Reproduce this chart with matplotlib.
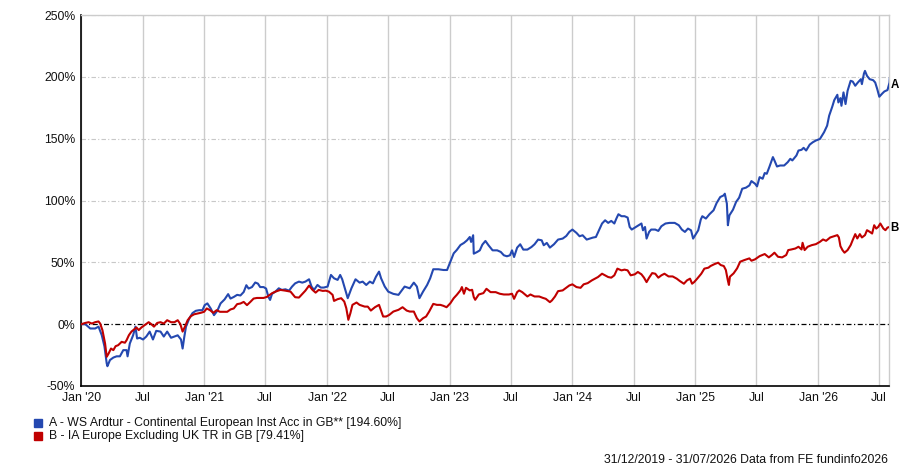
import matplotlib
matplotlib.use("Agg")
import matplotlib.pyplot as plt
from matplotlib.patches import Rectangle
import numpy as np
import pandas as pd

plt.rcParams['font.family'] = ['Liberation Sans', 'DejaVu Sans']

# months since 1 Jan 2020 and cumulative % return
months_a = [0,0.39,0.87,1.35,1.68,2.0,2.26,2.48,2.55,2.8,3.13,3.45,3.77,4.1,4.42,4.52,4.74,5.06,5.29,5.45,5.71,6.03,6.35,6.68,7.0,7.32,7.74,8.06,8.39,8.77,9.1,9.42,9.74,9.9,10.06,10.23,10.55,10.87,11.19,11.52,11.84,12.06,12.32,12.65,12.97,13.29,13.61,14.0,14.35,14.58,14.9,15.23,15.55,15.87,16.13,16.35,16.68,17.0,17.26,17.48,17.81,18.06,
            18.29,18.45,18.64,18.97,19.3,19.6,19.95,20.3,20.6,20.9,21.27,21.6,21.9,22.26,22.5,22.75,23.08,23.4,23.7,24.07,24.4,24.7,25.05,25.3,25.5,25.8,26.04,26.4,26.8,27.2,27.5,27.85,28.2,28.5,28.8,29.1,29.3,29.66,30.0,30.5,31.0,31.3,31.6,32.1,32.5,32.8,33.05,33.4,33.8,34.1,34.4,34.9,35.4,35.75,36.07,36.4,36.7,37.06,
            37.4,37.7,37.97,38.1,38.3,38.36,38.7,38.95,39.2,39.5,39.8,40.2,40.65,41.0,41.3,41.6,41.9,42.1,42.3,42.6,42.9,43.2,43.6,44.0,44.3,44.65,45.0,45.2,45.5,45.8,46.2,46.6,47.05,47.4,47.7,48.0,48.4,48.7,49.0,49.4,49.7,50.0,50.3,50.6,50.9,51.2,51.5,51.8,52.1,52.3,52.5,52.8,53.1,53.4,53.6,53.8,54.2,54.6,54.75,54.9,55.1,55.25,55.5,55.7,56.1,56.4,56.7,57.1,57.5,58.0,58.4,58.7,59.0,59.3,59.6,59.8,60.1,60.3,
            60.55,60.7,61.05,61.4,61.8,62.1,62.45,62.8,62.9,63.1,63.2,63.35,63.7,64.0,64.3,64.6,64.97,65.3,65.5,65.85,66.05,66.3,66.6,66.8,67.0,67.25,67.6,67.75,68.0,68.3,68.7,69.05,69.3,69.5,69.9,70.1,70.4,70.6,70.85,71.2,71.5,71.8,72.2,72.4,72.6,72.9,73.1,73.4,73.6,73.9,74.0,74.2,74.3,74.5,74.7,74.9,75.2,75.4,75.65,75.9,76.2,76.3,76.5,76.6,76.8,77.06,77.4,77.6,77.8,78.0,78.3,78.5,78.8,79.0,79.03]
values_a = [0,0,-3.5,-3.5,-2,-9,-18,-31.7,-34,-29,-27,-26,-26,-21,-21,-26,-15.6,-9,-2,-11.6,-11,-12.4,-10,-6,-12.4,-5.4,-6,-10,-6,-11,-10,-9,-12.4,-19.7,-10.5,-2,4.6,9,10.8,11.3,11.3,15.4,16.8,12.6,7.3,10.8,16.8,20,24.3,20.7,22,23.7,23.2,26,31.5,28.8,30,33.7,32.8,30,30,28.8,
            22,19.6,24.5,26.3,29,27.7,28.2,27.1,30.4,33,34.4,33.6,34.4,36.3,30.4,27.7,31.7,29.6,29.6,30.4,39.8,37.1,35.8,39.8,36.3,27.7,21,29,36.3,33.6,34.4,31.7,34.4,33,38.4,42.5,37.1,30.4,26.3,24.5,23.7,27.1,30.4,29,33.6,30.4,21,26.3,31.7,37.1,44.4,44.4,43.8,43.8,50.5,57.3,60,64,
            65.7,67.8,70.5,66.5,71.9,57,58.4,59.7,64.3,67.3,63.8,59.7,59.7,58.4,55.7,54.9,55.7,59.7,54.3,61.9,64.6,60.3,60.3,62.4,64.6,68.4,67.8,63.8,65.7,61.9,64.6,68.4,69.2,71.3,74.6,76.5,73.8,71.1,71.9,68.4,69.2,70,70.5,75.9,81.4,84,81.9,83.5,81.4,85.4,88.9,87.3,87.3,86.2,78.6,76.5,78.6,80.8,81.4,75.9,78.6,69.2,74.6,76.5,76.5,75.4,79.2,81.4,81.9,81.9,80,76.5,74.6,77.3,75.9,69.2,73.2,75.9,
            84.6,87.3,85.4,88.9,92.1,98,102.8,104.2,105.5,97.5,80,88,92.6,98.8,102.3,109.5,110.4,112.2,115.7,113.6,111.4,118.9,117.6,122.2,121.6,127,135.1,132.4,127.5,128.3,128.3,131,133.7,132.4,136.4,140.4,141,142.6,140.4,145.2,147.1,148.5,149.8,152.5,155.2,160.5,168.6,175.8,181.2,185.5,179.3,182.8,176.6,187.4,178,188.7,196.8,196.2,192.8,195.4,198.1,194.1,202.7,204.8,200.8,198.1,197.3,195.4,190.1,183.9,186.6,188.2,189.3,195.4,198.9]

months_b = [0,0.39,0.71,1.03,1.35,1.68,1.84,2.06,2.32,2.48,2.65,2.9,3.13,3.35,3.6,3.94,4.26,4.42,4.65,4.9,5.16,5.39,5.61,5.87,6.19,6.58,6.84,7.1,7.42,7.74,8.06,8.39,8.77,9.1,9.42,9.68,9.9,10.13,10.39,10.71,11.03,11.35,11.68,12.0,12.26,12.58,12.9,13.23,13.55,13.94,14.26,14.58,14.9,15.23,15.55,15.87,16.19,16.52,16.84,17.16,17.48,17.81,18.13,
            18.64,18.97,19.46,19.95,20.45,20.9,21.27,21.6,21.9,22.26,22.6,22.9,23.2,23.6,23.9,24.2,24.56,24.7,25.05,25.4,25.7,25.9,26.1,26.3,26.5,26.9,27.2,27.7,28.0,28.3,28.7,29.1,29.5,29.8,30.1,30.5,31.0,31.4,31.8,32.1,32.5,32.8,33.05,33.4,33.7,34.0,34.4,34.76,35.1,35.4,35.7,36.07,36.4,36.7,
            37.05,37.2,37.4,37.6,37.97,38.2,38.36,38.5,38.85,39.3,39.6,40.0,40.5,40.9,41.3,41.8,42.1,42.3,42.6,42.8,43.1,43.6,43.9,44.3,44.75,45.1,45.4,45.8,46.0,46.3,46.6,47.05,47.4,47.7,48.0,48.4,48.8,49.1,49.5,49.9,50.2,50.5,50.9,51.2,51.5,51.8,52.1,52.4,52.8,53.1,53.4,53.7,54.1,54.4,54.75,55.0,55.25,55.5,55.8,56.1,56.4,56.7,57.0,57.4,57.8,58.2,58.5,58.9,59.2,59.5,59.7,59.9,60.2,60.6,60.9,61.3,
            61.5,61.9,62.25,62.5,62.8,63.0,63.2,63.3,63.4,63.76,64.1,64.4,64.8,65.3,65.5,65.85,66.3,66.8,67.2,67.5,67.75,68.1,68.5,68.9,69.1,69.4,69.8,70.1,70.4,70.5,70.7,71.0,71.4,71.8,72.2,72.5,72.8,73.2,73.6,73.9,74.05,74.2,74.4,74.6,74.9,75.2,75.4,75.65,75.85,76.1,76.3,76.6,76.8,77.06,77.3,77.5,77.7,77.9,78.1,78.4,78.6,78.8,79.03]
values_b = [0,1,1.6,0.5,1.6,2.2,0.5,-4.8,-15.6,-26.4,-24,-19.7,-21,-17.8,-17,-14.3,-15,-13,-8.9,-6,-4.3,-2.7,-4.8,-2.7,-0.8,1.6,0,-2,1,1.6,0.5,3.2,1.6,1.6,3.2,0,-6,-2,3.2,6.5,8,8.6,9.2,10,12.7,11.3,9.2,11.3,10,10,10,11.9,12.7,16.2,16.7,18,15.4,18,20.7,21.2,21.2,21.2,22,
            25,26.3,27.7,27.1,26.3,21.8,21.5,24.5,27.1,31.2,27.7,25.5,27.7,26.9,27.1,26.3,23.7,18.8,20.2,21,18.3,12.9,3.5,8.9,15.6,17.5,15.6,14.2,14.2,11,13.7,15.6,6.2,6.2,7.5,10.2,11.6,13.7,11,10.2,10.2,4.8,2.2,4.8,6.2,10.2,16.4,15.6,15.6,14.8,13.7,16.9,21,23.7,
            27.3,30,24.6,29.4,27.3,27.8,21.9,19.7,24,25.1,28.6,25.9,25.9,24.6,24,24,24.6,20.5,25.9,27.3,25.9,22.4,24,22.4,22.4,21.3,20.5,17.8,19.2,22.4,26.7,27.3,29.4,31.3,32.2,30,29.4,32.2,33.2,35.4,36.8,38.1,40.8,39.5,38.1,37.6,39.5,44.9,43.5,44.1,43.5,39.5,40.3,42.2,40.3,37.6,34,37.6,41.3,40.8,37.6,39.5,40.8,38.6,38.6,36.8,34.9,32.7,35.4,36.8,32.7,34,36.8,40.8,44.9,45.7,
            47,48.6,49.7,47.8,47,43.8,35.2,31.7,38.4,41.1,45.1,50.5,51.8,53.2,51.3,52.4,55,56.7,54,55.9,57.8,54.5,54,55.9,59.9,60.4,61.2,62.6,60.4,65.8,59.9,62.6,63.9,64.7,66.6,68.5,67.4,70.1,71.2,72,70.1,63.1,59.9,57.8,59.9,63.9,68,72.8,69.3,72.8,70.1,72,76,74.7,73.3,80,77.3,78.7,81.4,77.3,76,78.1,78.7]

series_names = ["A - WS Ardtur - Continental European Inst Acc in GB** [194.60%]",
                "B - IA Europe Excluding UK TR in GB [79.41%]"]
series_tags = ["A", "B"]
colors = ["#2448b0", "#c00000"]

y_ticks = [-50, 0, 50, 100, 150, 200, 250]
x_tick_dates = ["2020-01-01", "2020-07-01", "2021-01-01", "2021-07-01", "2022-01-01", "2022-07-01",
                "2023-01-01", "2023-07-01", "2024-01-01", "2024-07-01", "2025-01-01", "2025-07-01",
                "2026-01-01", "2026-07-01"]
x_tick_labels = ["Jan '20", "Jul", "Jan '21", "Jul", "Jan '22", "Jul", "Jan '23", "Jul",
                 "Jan '24", "Jul", "Jan '25", "Jul", "Jan '26", "Jul"]
footer = "31/12/2019 - 31/07/2026 Data from FE fundinfo2026"

FS = 8.8

base = pd.Timestamp("2020-01-01")
def to_dates(m):
    return base + pd.to_timedelta(np.array(m) * 30.4375, unit="D")

fig = plt.figure(figsize=(9, 4.67), dpi=100)
ax = fig.add_axes([81/900, 1-386/467, (889-81)/900, (386-15)/467])

for m, v, c in [(months_a, values_a, colors[0]), (months_b, values_b, colors[1])]:
    ax.plot(to_dates(m), v, color=c, lw=1.5, zorder=3)

ax.set_xlim(pd.Timestamp("2019-12-31"), pd.Timestamp("2026-07-31"))
ax.set_ylim(-50, 250)
ax.set_yticks(y_ticks)
ax.set_yticklabels([f"{t}%" for t in y_ticks])
xt = pd.to_datetime(x_tick_dates)
ax.set_xticks(xt)
ax.set_xticklabels(x_tick_labels)
ax.tick_params(axis='both', length=0, labelsize=FS, colors='#111111')
ax.tick_params(axis='x', pad=4)
ax.tick_params(axis='y', pad=4)

for d in xt:
    ax.axvline(d, color='#cccccc', lw=1, zorder=1)
for t in y_ticks[1:]:
    if t == 0:
        continue
    ax.axhline(t, color='#c8c8c8', lw=0.8, ls=(0, (4, 2, 1, 2)), zorder=1)
ax.axhline(0, color='black', lw=0.9, ls=(0, (4, 2, 1, 2)), zorder=2)

for s in ['left', 'bottom']:
    ax.spines[s].set_color('black')
    ax.spines[s].set_linewidth(1.2)
for s in ['top', 'right']:
    ax.spines[s].set_color('#cccccc')
    ax.spines[s].set_linewidth(1)

# end labels
ax.annotate(series_tags[0], xy=(1, (values_a[-1] + 50) / 300), xycoords='axes fraction',
            xytext=(1, -5), textcoords='offset points', fontsize=8.3, fontweight='bold',
            va='center', ha='left', annotation_clip=False)
ax.annotate(series_tags[1], xy=(1, (values_b[-1] + 50) / 300), xycoords='axes fraction',
            xytext=(1, -1), textcoords='offset points', fontsize=8.3, fontweight='bold',
            va='center', ha='left', annotation_clip=False)

# legend
for i, (name, c) in enumerate(zip(series_names, colors)):
    yc = 423 + i * 13
    fig.patches.append(Rectangle((34/900, 1-(yc+4)/467), 7.5/900, 8/467,
                                 transform=fig.transFigure, color=c))
    fig.text(49/900, 1-yc/467, name, fontsize=FS, va='center', ha='left', color='#111111')

fig.text(888/900, 1-460/467, footer, fontsize=FS, va='center', ha='right', color='#111111')

fig.savefig("out.png", dpi=100)
